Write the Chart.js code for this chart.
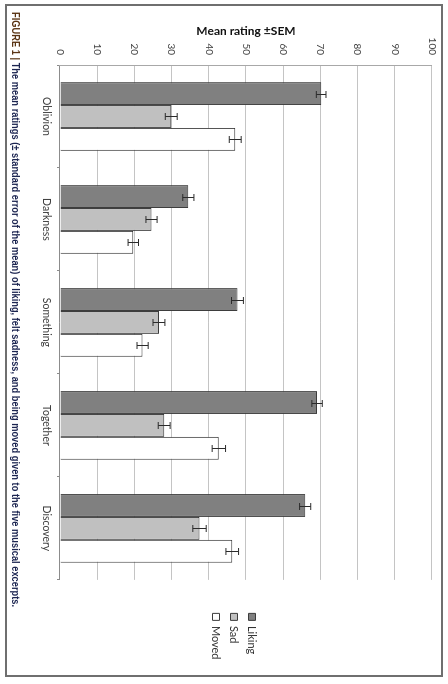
<!DOCTYPE html>
<html>
<head>
<meta charset="utf-8">
<script src="https://cdn.jsdelivr.net/npm/chart.js@4.4.1/dist/chart.umd.min.js"></script>
<style>
html, body { margin:0; padding:0; background:#fff; width:448px; height:684px; overflow:hidden; }
/* the figure is laid out upright (684 wide, 448 tall) and then turned a quarter clockwise */
#turn { position:absolute; left:0; top:0; width:684px; height:448px; transform-origin:0 0; transform:translate(448px,0) rotate(90deg); }
#frame { position:absolute; left:4px; top:5px; width:669px; height:434px; border:2px solid #6f6f6f; }
#chartBox { position:absolute; left:0; top:0; width:684px; height:448px; }
#caption { position:absolute; left:12px; top:426px; white-space:nowrap; font:bold 11px "Liberation Sans Narrow", "Liberation Sans", sans-serif; color:#1b2450; transform-origin:0 50%; }
#caption b { color:#5a3414; }
</style>
</head>
<body>
<div id="turn">
  <div id="frame"></div>
  <div id="chartBox"><canvas id="myChart" width="684" height="448"></canvas></div>
  <div id="caption"><b>FIGURE 1 |</b> The mean ratings (± standard error of the mean) of liking, felt sadness, and being moved given to the five musical excerpts.</div>
</div>
<script>
var categories = ['Oblivion', 'Darkness', 'Something', 'Together', 'Discovery'];
var liking = [70.2, 34.5, 47.7, 69.1, 65.9];
var likingSem = [1.3, 1.5, 1.6, 1.4, 1.5];
var sad = [29.9, 24.6, 26.6, 28.0, 37.5];
var sadSem = [1.6, 1.5, 1.6, 1.6, 1.8];
var moved = [47.1, 19.7, 22.2, 42.7, 46.3];
var movedSem = [1.6, 1.4, 1.5, 1.8, 1.7];
var sems = [likingSem, sadSem, movedSem];

// +/- SEM whiskers on top of each bar
var errorBars = {
  id: 'errorBars',
  afterDatasetsDraw: function(chart) {
    var ctx = chart.ctx;
    var y = chart.scales.y;
    ctx.save();
    ctx.strokeStyle = '#2b2b2b';
    ctx.lineWidth = 1;
    chart.data.datasets.forEach(function(ds, di) {
      var meta = chart.getDatasetMeta(di);
      meta.data.forEach(function(bar, i) {
        var hi = y.getPixelForValue(ds.data[i] + sems[di][i]);
        var lo = y.getPixelForValue(ds.data[i] - sems[di][i]);
        var x = Math.round(bar.x) + 0.5;
        ctx.beginPath();
        ctx.moveTo(x, hi); ctx.lineTo(x, lo);
        ctx.moveTo(x - 3.5, hi); ctx.lineTo(x + 3.5, hi);
        ctx.moveTo(x - 3.5, lo); ctx.lineTo(x + 3.5, lo);
        ctx.stroke();
      });
    });
    ctx.restore();
  }
};

function makeChart() {
  var ctx = document.getElementById('myChart').getContext('2d');
  var myChart = new Chart(ctx, {
    type: 'bar',
    data: {
      labels: categories,
      datasets: [
        { label: 'Liking', data: liking, backgroundColor: '#808080', borderColor: '#3c3c3c', borderWidth: 1 },
        { label: 'Sad', data: sad, backgroundColor: '#c0c0c0', borderColor: '#3c3c3c', borderWidth: 1 },
        { label: 'Moved', data: moved, backgroundColor: '#ffffff', borderColor: '#3c3c3c', borderWidth: 1 }
      ]
    },
    options: {
      responsive: false,
      animation: false,
      devicePixelRatio: 1,
      categoryPercentage: 0.667,
      barPercentage: 1.0,
      layout: { padding: { left: 0, top: 15, right: 14.5, bottom: 35 } },
      plugins: {
        tooltip: { enabled: false },
        legend: {
          position: 'right',
          labels: { boxWidth: 7, boxHeight: 7, padding: 7, color: '#333', font: { family: 'Lato', size: 11 } }
        }
      },
      scales: {
        x: {
          grid: { display: true, drawOnChartArea: false, drawTicks: true, tickLength: 3, color: '#8c8c8c', offset: true },
          border: { color: '#8c8c8c' },
          ticks: { color: '#404040', padding: 4, font: { family: 'Lato', size: 10.5 } },
          afterFit: function(s) { s.height = 25; }
        },
        y: {
          min: 0, max: 100,
          grid: { color: '#c4c4c4', drawTicks: false },
          border: { color: '#a8a8a8' },
          ticks: { stepSize: 10, color: '#404040', padding: 10, font: { family: 'Lato', size: 10 } },
          title: { display: true, text: 'Mean rating ±SEM', color: '#111', padding: { top: 23.8, bottom: 0 }, font: { family: 'Lato', size: 12, weight: 'bold' } },
          afterFit: function(s) { s.width = 65; }
        },
        // empty spacer between the plot and the legend
        gap: {
          type: 'linear', position: 'right', display: true,
          grid: { display: false }, border: { display: false }, ticks: { display: false },
          afterFit: function(s) { s.width = 26.5; }
        }
      }
    },
    plugins: [errorBars]
  });
}
makeChart();

// squeeze the caption to the narrow width it has in the figure
var cap = document.getElementById('caption');
cap.style.transform = 'scaleX(' + (595 / cap.offsetWidth) + ')';
</script>
</body>
</html>
